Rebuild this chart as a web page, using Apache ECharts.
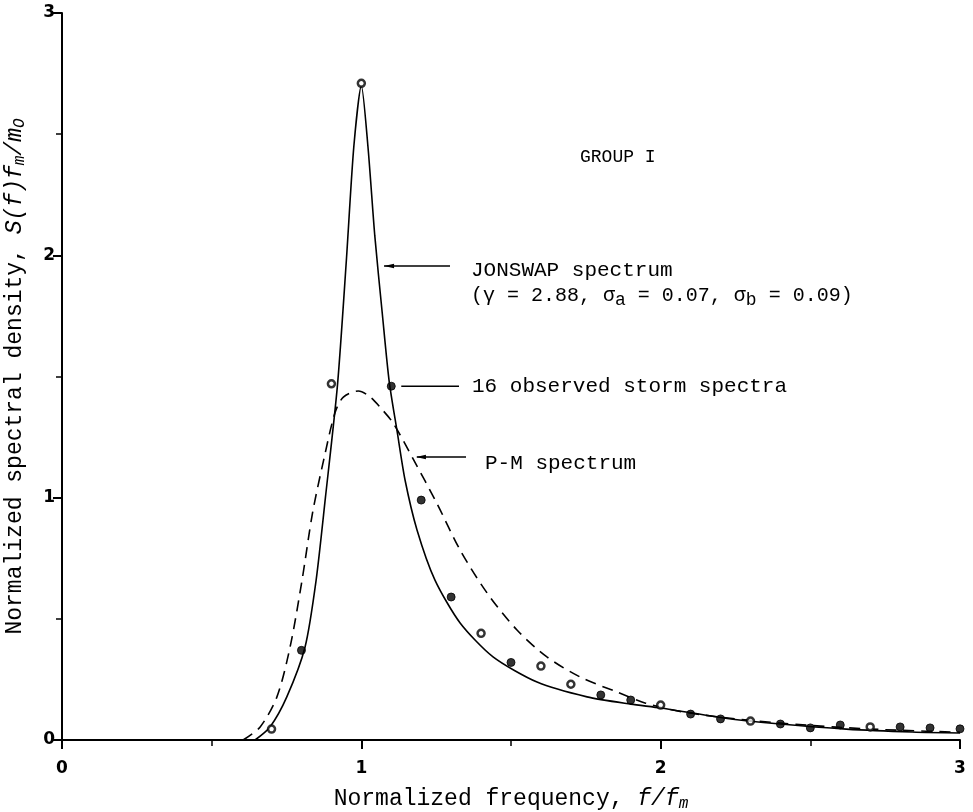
<!DOCTYPE html>
<html>
<head>
<meta charset="utf-8">
<script src="https://cdn.jsdelivr.net/npm/echarts@6/dist/echarts.min.js"></script>
<style>
  html, body { margin: 0; padding: 0; background: #ffffff; }
  #chart { width: 973px; height: 812px; }
</style>
</head>
<body>
<div id="chart"></div>
<script>
// Observed normalized spectral densities (16 storm spectra, group I)
const obsFreq    = [0.7, 0.8, 0.9, 1.0, 1.1, 1.2, 1.3, 1.4, 1.5, 1.6, 1.7, 1.8, 1.9, 2.0, 2.1, 2.2, 2.3, 2.4, 2.5, 2.6, 2.7, 2.8, 2.9, 3.0];
const obsDensity = [0.045, 0.37, 1.47, 2.71, 1.46, 0.99, 0.59, 0.44, 0.32, 0.305, 0.23, 0.186, 0.165, 0.144, 0.107, 0.087, 0.078, 0.066, 0.05, 0.062, 0.054, 0.054, 0.05, 0.046];
const obsHollow  = [true, false, true, true, false, false, false, true, false, true, true, false, false, true, false, false, true, false, false, false, true, false, false, false];

// JONSWAP spectrum (gamma = 2.88, sigma_a = 0.07, sigma_b = 0.09)
const jonswapFreq    = [0.645, 0.695, 0.751, 0.812, 0.849, 0.88, 0.92, 0.95, 0.975, 1.0, 1.022, 1.045, 1.07, 1.093, 1.12, 1.146, 1.186, 1.246, 1.33, 1.44, 1.587, 1.754, 1.9, 2.0, 2.21, 2.4, 2.62, 2.84, 3.0];
const jonswapDensity = [0.0, 0.054, 0.178, 0.384, 0.66, 1.0, 1.46, 1.98, 2.45, 2.70, 2.45, 2.08, 1.76, 1.48, 1.27, 1.073, 0.867, 0.66, 0.483, 0.343, 0.239, 0.178, 0.148, 0.132, 0.091, 0.066, 0.045, 0.033, 0.029];

// Pierson-Moskowitz spectrum
const pmFreq    = [0.605, 0.662, 0.718, 0.762, 0.802, 0.837, 0.875, 0.912, 0.94, 0.99, 1.029, 1.062, 1.106, 1.173, 1.253, 1.33, 1.42, 1.52, 1.62, 1.731, 1.854, 1.95, 2.065, 2.2, 2.4, 2.6, 2.8, 3.0];
const pmDensity = [0.0, 0.054, 0.178, 0.384, 0.66, 0.937, 1.16, 1.35, 1.415, 1.44, 1.416, 1.374, 1.308, 1.16, 0.975, 0.784, 0.607, 0.454, 0.343, 0.26, 0.198, 0.152, 0.118, 0.094, 0.07, 0.052, 0.04, 0.032];

// Axis ranges
const freqRange = [0, 3];
const densityRange = [0, 3];

const zip = (xs, ys) => xs.map((x, i) => [x, ys[i]]);

const MONO = '"Liberation Mono", "DejaVu Sans Mono", monospace';
const TICK_FONT = { fontFamily: '"DejaVu Sans", "Liberation Sans", sans-serif', fontWeight: 'bold', fontSize: 17, color: '#000' };

const chart = echarts.init(document.getElementById('chart'), null, { renderer: 'canvas' });

const axisCommon = {
  type: 'value',
  interval: 1,
  splitLine: { show: false },
  axisLine: { show: true, onZero: false, lineStyle: { color: '#000', width: 2 } },
  axisTick: { show: true, length: 9, lineStyle: { color: '#000', width: 2 } },
  minorTick: { show: true, splitNumber: 2, length: 6, lineStyle: { color: '#000', width: 1.5 } },
  minorSplitLine: { show: false }
};

const richTitle = {
  t: { fontFamily: MONO, fontSize: 23, color: '#000' },
  i: { fontFamily: MONO, fontStyle: 'italic', fontSize: 23, color: '#000' },
  s: { fontFamily: MONO, fontStyle: 'italic', fontSize: 16, color: '#000', padding: [10, 0, 0, 0] }
};

chart.setOption({
  backgroundColor: '#ffffff',
  animation: false,
  grid: { left: 62, right: 13, top: 13, bottom: 72, containLabel: false, outerBoundsMode: 'none' },
  xAxis: Object.assign({}, axisCommon, {
    min: freqRange[0], max: freqRange[1],
    axisLabel: Object.assign({ margin: 20 }, TICK_FONT),
    name: '{t|Normalized frequency, }{i|f/f}{s|m}',
    nameLocation: 'middle',
    nameGap: 46,
    nameTextStyle: { rich: richTitle }
  }),
  yAxis: Object.assign({}, axisCommon, {
    min: densityRange[0], max: densityRange[1],
    axisLabel: Object.assign({ margin: 7 }, TICK_FONT),
    name: '{t|Normalized spectral density, }{i|S(f)f}{s|m}{i|/m}{s|O}',
    nameLocation: 'middle',
    nameRotate: 90,
    nameGap: 34,
    nameTextStyle: { rich: richTitle }
  }),
  series: [
    {
      name: 'P-M spectrum',
      type: 'line',
      data: zip(pmFreq, pmDensity),
      smooth: 0.3,
      showSymbol: false,
      lineStyle: { color: '#000', width: 1.6, type: [11, 7] },
      z: 2
    },
    {
      name: 'JONSWAP spectrum',
      type: 'line',
      data: zip(jonswapFreq, jonswapDensity),
      smooth: 0.25,
      showSymbol: false,
      lineStyle: { color: '#000', width: 1.6 },
      z: 3
    },
    {
      name: '16 observed storm spectra',
      type: 'scatter',
      symbol: 'circle',
      data: obsFreq.map((f, i) => ({
        value: [f, obsDensity[i]],
        symbolSize: obsHollow[i] ? 7 : 8,
        itemStyle: obsHollow[i]
          ? { color: '#fff', borderColor: '#000', borderWidth: 2.5 }
          : { color: '#000', borderColor: '#000', borderWidth: 1 }
      })),
      z: 4
    }
  ]
});

// Annotations: leader lines start on the curves (data coordinates) and run right to the labels
function px(pt) { return chart.convertToPixel({ gridIndex: 0 }, pt); }

const jonAnchor = px([1.0725, 1.956]);
const obsAnchor = px([obsFreq[4], obsDensity[4]]);
const pmAnchor  = px([1.179, 1.168]);

function arrowHead(p) {
  return {
    type: 'polygon',
    shape: { points: [[p[0], p[1]], [p[0] + 10, p[1] - 2.2], [p[0] + 10, p[1] + 2.2]] },
    style: { fill: '#000' }
  };
}
function leader(p, x0, x1) {
  return {
    type: 'line',
    shape: { x1: p[0] + x0, y1: p[1], x2: x1, y2: p[1] },
    style: { stroke: '#000', lineWidth: 1.5 }
  };
}
const labelStyle = (text, x, y, size) => ({
  type: 'text', x: x, y: y,
  style: { text: text, fontFamily: MONO, fontSize: size, fill: '#000', verticalAlign: 'middle', align: 'left' }
});

chart.setOption({
  graphic: [
    labelStyle('GROUP I', 580, 157, 18),
    leader(jonAnchor, 1, 450),
    arrowHead([jonAnchor[0] + 1, jonAnchor[1]]),
    labelStyle('JONSWAP spectrum', 471, 270, 21),
    {
      type: 'text', x: 471, y: 296,
      style: {
        text: '{t|(γ = 2.88, σ}{s|a}{t| = 0.07, σ}{s|b}{t| = 0.09)}',
        verticalAlign: 'middle', align: 'left',
        rich: {
          t: { fontFamily: MONO, fontSize: 20, fill: '#000' },
          s: { fontFamily: MONO, fontSize: 18, fill: '#000', padding: [8, 0, 0, 0] }
        }
      }
    },
    leader(obsAnchor, 10, 459),
    labelStyle('16 observed storm spectra', 472, 386, 21),
    leader(pmAnchor, 2, 466),
    arrowHead([pmAnchor[0] + 1, pmAnchor[1]]),
    labelStyle('P-M spectrum', 485, 463, 21)
  ]
});
</script>
</body>
</html>
